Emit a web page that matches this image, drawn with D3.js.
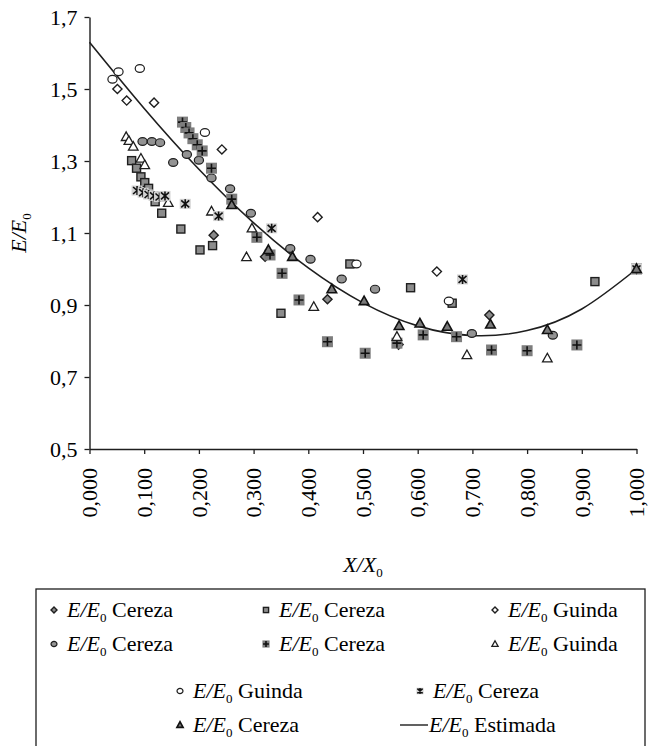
<!DOCTYPE html>
<html><head><meta charset="utf-8">
<script src="https://cdn.jsdelivr.net/npm/d3@7"></script>
<style>
html,body{margin:0;padding:0;background:#fff;}
svg{display:block;}
svg text{font-family:"Liberation Serif","Times New Roman","DejaVu Serif",serif;}
</style></head>
<body>
<svg id="chart" width="656" height="746"></svg>
<script>
// ---- data ----
const xTicks = [0,0.1,0.2,0.3,0.4,0.5,0.6,0.7,0.8,0.9,1.0];
const yTicks = [0.5,0.7,0.9,1.1,1.3,1.5,1.7];

// S1: filled diamond, Cereza
const s1 = [[0.227,1.094],[0.321,1.034],[0.435,0.916],[0.565,0.790],[0.731,0.872],[1,1]];
// S2: gray square, Cereza
const s2 = [[0.077,1.301],[0.086,1.280],[0.094,1.256],[0.101,1.240],[0.108,1.224],[0.120,1.187],[0.132,1.155],[0.167,1.111],[0.202,1.053],[0.225,1.065],[0.350,0.877],[0.476,1.014],[0.587,0.948],[0.663,0.905],[0.924,0.965],[1,1]];
// S3: open diamond, Guinda
const s3 = [[0.051,1.500],[0.068,1.468],[0.118,1.462],[0.242,1.332],[0.417,1.144],[0.635,0.993],[1,1]];
// S4: gray circle, Cereza
const s4 = [[0.097,1.354],[0.114,1.354],[0.129,1.351],[0.153,1.296],[0.178,1.318],[0.200,1.302],[0.223,1.253],[0.257,1.223],[0.295,1.155],[0.367,1.057],[0.404,1.027],[0.461,0.972],[0.522,0.944],[0.699,0.821],[0.847,0.816],[1,1]];
// S5: plus on dark square, Cereza
const s5 = [[0.170,1.408],[0.176,1.393],[0.182,1.378],[0.189,1.362],[0.197,1.345],[0.206,1.328],[0.223,1.280],[0.260,1.194],[0.306,1.088],[0.330,1.039],[0.352,0.988],[0.383,0.914],[0.435,0.798],[0.504,0.766],[0.562,0.794],[0.610,0.817],[0.671,0.812],[0.735,0.775],[0.800,0.773],[0.891,0.789],[1,1]];
// S6: open triangle, Guinda
const s6 = [[0.067,1.367],[0.072,1.356],[0.080,1.340],[0.094,1.307],[0.101,1.289],[0.144,1.184],[0.223,1.160],[0.287,1.033],[0.297,1.113],[0.410,0.895],[0.562,0.812],[0.690,0.761],[0.837,0.752],[1,1]];
// S7: open circle, Guinda
const s7 = [[0.042,1.527],[0.053,1.548],[0.092,1.557],[0.211,1.379],[0.488,1.014],[0.657,0.911],[1,1]];
// S8: asterisk on light square, Cereza
const s8 = [[0.087,1.218],[0.098,1.212],[0.108,1.207],[0.118,1.203],[0.128,1.200],[0.138,1.203],[0.175,1.181],[0.236,1.147],[0.333,1.113],[0.682,0.971],[1,1]];
// S9: filled triangle, Cereza
const s9 = [[0.260,1.178],[0.327,1.053],[0.371,1.034],[0.443,0.944],[0.502,0.911],[0.566,0.842],[0.604,0.849],[0.654,0.840],[0.733,0.846],[0.837,0.831],[1,1]];
// Estimada curve
const estX = [0,0.1,0.2,0.3,0.4,0.5,0.6,0.7,0.8,0.9,1.0];
const estY = [1.630,1.446,1.277,1.128,1.003,0.906,0.842,0.815,0.829,0.889,1.000];

const legendNames = ["Cereza","Cereza","Guinda","Cereza","Cereza","Guinda","Guinda","Cereza","Cereza","Estimada"];

// ---- drawing ----
const FONT = "'Liberation Serif','Times New Roman','DejaVu Serif',serif";
const svg = d3.select("#chart");
const x = d3.scaleLinear().domain([0,1]).range([89.5,636.5]);
const y = d3.scaleLinear().domain([0.5,1.7]).range([449,17]);
const loc = d3.formatLocale({decimal:",",thousands:".",grouping:[3],currency:["","€"]});
const INK = "#1e1e1e";

// axes
const ya = svg.append("g").attr("transform",`translate(${x(0)},0)`)
  .call(d3.axisLeft(y).tickValues(yTicks).tickSize(5).tickSizeOuter(0).tickPadding(7).tickFormat(loc.format(".1f")));
const xa = svg.append("g").attr("transform",`translate(0,${y(0.5)})`)
  .call(d3.axisBottom(x).tickValues(xTicks).tickSize(5).tickSizeOuter(0).tickFormat(loc.format(".3f")));
[ya,xa].forEach(g=>{
  g.attr("font-family",FONT);
  g.select(".domain").attr("stroke",INK).attr("stroke-width",1.4);
  g.selectAll(".tick line").attr("stroke",INK).attr("stroke-width",1.3);
  g.selectAll("text").attr("fill","#000").attr("font-size",22).attr("font-family",FONT);
});
xa.selectAll(".tick text").attr("transform","rotate(-90)").attr("text-anchor","end")
  .attr("x",-19).attr("y",0).attr("dy","0.33em");

// axis titles
function eLabel(sel, base, sub){
  sel.append("tspan").attr("font-style","italic").text(base);
  sel.append("tspan").attr("font-size",13).attr("dy",5).text(sub);
}
const yl = svg.append("text").attr("transform",`translate(26,${y(1.1)}) rotate(-90)`)
  .attr("text-anchor","middle").attr("font-size",22).attr("fill","#000").attr("font-family",FONT);
eLabel(yl,"E/E","0");
const xl = svg.append("text").attr("x",x(0.5)).attr("y",572).attr("text-anchor","middle").attr("font-size",22).attr("fill","#000").attr("font-family",FONT);
eLabel(xl,"X/X","0");

// curve
const line = d3.line().x(d=>x(d[0])).y(d=>y(d[1])).curve(d3.curveNatural);
svg.append("path").datum(estX.map((v,i)=>[v,estY[i]]))
  .attr("d",line).attr("fill","none").attr("stroke",INK).attr("stroke-width",1.6);

// marker drawers
const dia = s=>`M0,${-4.6*s}L${4.6*s},0L0,${4.6*s}L${-4.6*s},0Z`;
const tri = s=>`M0,${-5*s}L${4.8*s},${3.6*s}L${-4.8*s},${3.6*s}Z`;
const markers = {
  fdiamond:(g,s)=>g.append("path").attr("d",dia(s)).attr("fill","#8a8a8a").attr("stroke",INK).attr("stroke-width",1.4),
  square:(g,s)=>g.append("rect").attr("x",-4*s).attr("y",-4*s).attr("width",8*s).attr("height",8*s).attr("fill","#8c8c8c").attr("stroke",INK).attr("stroke-width",1.4),
  odiamond:(g,s)=>g.append("path").attr("d",dia(s)).attr("fill","#fff").attr("stroke",INK).attr("stroke-width",1.4),
  gcircle:(g,s)=>g.append("ellipse").attr("rx",4.6*s).attr("ry",3.9*s).attr("fill","#939393").attr("stroke",INK).attr("stroke-width",1.2),
  plus:(g,s)=>{g.append("rect").attr("x",-5.5*s).attr("y",-5.5*s).attr("width",11*s).attr("height",11*s).attr("fill","#7d7d7d");
    g.append("path").attr("d",`M${-4.5*s},0H${4.5*s}M0,${-4.5*s}V${4.5*s}`).attr("stroke","#111").attr("stroke-width",1.6);},
  otriangle:(g,s)=>g.append("path").attr("d",tri(s)).attr("fill","#fff").attr("stroke",INK).attr("stroke-width",1.3),
  ocircle:(g,s)=>g.append("ellipse").attr("rx",4.6*s).attr("ry",3.9*s).attr("fill","#fff").attr("stroke",INK).attr("stroke-width",1.2),
  asterisk:(g,s)=>{g.append("rect").attr("x",-5.5*s).attr("y",-5*s).attr("width",11*s).attr("height",10*s).attr("fill","#d2d2d2");
    g.append("path").attr("d",`M0,${-4.5*s}V${4.5*s}M${-4*s},${-3.5*s}L${4*s},${3.5*s}M${-4*s},${3.5*s}L${4*s},${-3.5*s}`).attr("stroke","#111").attr("stroke-width",1.6);},
  ftriangle:(g,s)=>g.append("path").attr("d",tri(s)).attr("fill","#7a7a7a").attr("stroke","#111").attr("stroke-width",1.6)
};
const series = [
  {data:s1,m:"fdiamond"},{data:s2,m:"square"},{data:s3,m:"odiamond"},
  {data:s4,m:"gcircle"},{data:s5,m:"plus"},{data:s6,m:"otriangle"},
  {data:s7,m:"ocircle"},{data:s8,m:"asterisk"},{data:s9,m:"ftriangle"}
];
series.forEach(sr=>{
  const g = svg.append("g");
  sr.data.forEach(d=>{
    const p = g.append("g").attr("transform",`translate(${x(d[0])},${y(d[1])})`);
    markers[sr.m](p,1);
  });
});

// legend
svg.append("rect").attr("x",36).attr("y",589).attr("width",609).attr("height",180)
  .attr("fill","none").attr("stroke",INK).attr("stroke-width",1.3);
const legPos = [[54,610],[266,610],[495,610],[54,644],[266,644],[495,644],[180,691],[420,691],[180,725],[0,725]];
legendNames.forEach((nm,i)=>{
  const [lx,ly] = legPos[i];
  const g = svg.append("g");
  let tx;
  if(i<9){
    const p = g.append("g").attr("transform",`translate(${lx},${ly})`);
    markers[series[i].m](p,0.65);
    tx = lx+13;
  } else {
    g.append("line").attr("x1",400).attr("x2",428).attr("y1",ly).attr("y2",ly).attr("stroke",INK).attr("stroke-width",1.4);
    tx = 429;
  }
  const t = g.append("text").attr("x",tx).attr("y",ly+7).attr("font-size",22).attr("fill","#000").attr("font-family",FONT);
  t.append("tspan").attr("font-style","italic").text("E/E");
  t.append("tspan").attr("font-size",13).attr("dy",5).text("0");
  t.append("tspan").attr("dy",-5).text(" "+nm);
});
</script>
</body></html>
